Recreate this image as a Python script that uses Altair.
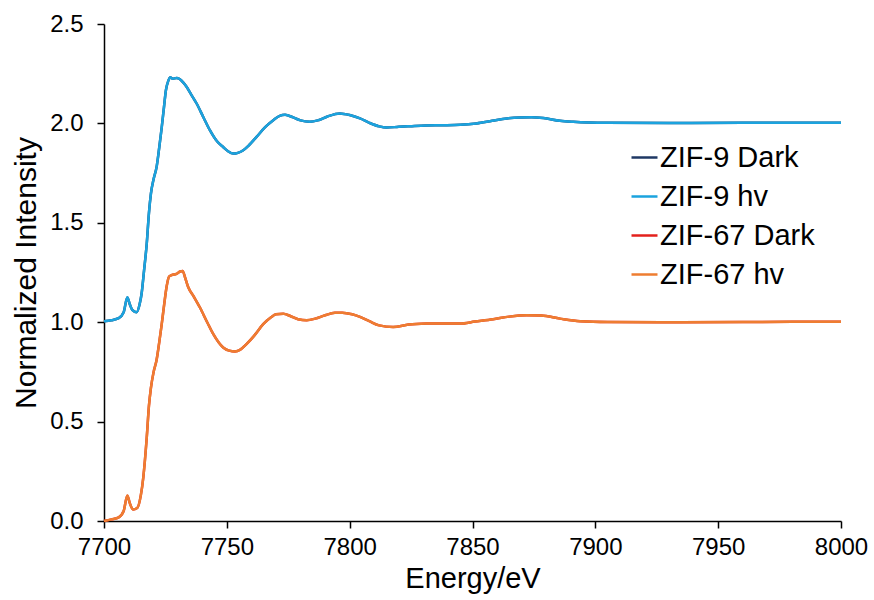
import altair as alt
import pandas as pd

# ---- data ----
zif67_energy = [7700, 7703, 7706, 7708, 7709.5, 7710.5, 7711.8, 7713.5, 7715, 7716, 7717.4, 7718.3,
                7719.1, 7720.2, 7721.4, 7722.5, 7723.5, 7724.5, 7725.5, 7726.5, 7727.5, 7729.5, 7731,
                7732, 7733, 7734.3, 7736.5, 7739, 7742, 7744.5, 7748.5, 7751, 7753.3, 7755.5, 7758,
                7761, 7764.8, 7768, 7770, 7773, 7776, 7779, 7782.5, 7786, 7790, 7794, 7797, 7801,
                7804.2, 7808, 7812, 7817.7, 7824, 7831.3, 7838, 7844.9, 7851, 7858.4, 7865, 7872,
                7878, 7885.6, 7893.8, 7905, 7930, 7960, 7980, 8000]
zif67_hv = [0.000, 0.008, 0.018, 0.05, 0.128, 0.09, 0.058, 0.065, 0.13, 0.22, 0.42, 0.58,
            0.67, 0.75, 0.81, 0.90, 0.99, 1.09, 1.18, 1.23, 1.237, 1.243, 1.255,
            1.258, 1.225, 1.176, 1.13, 1.075, 1.0, 0.94, 0.873, 0.857, 0.853, 0.862, 0.89,
            0.93, 0.99, 1.025, 1.04, 1.043, 1.03, 1.015, 1.01, 1.018, 1.035, 1.047, 1.048, 1.04,
            1.027, 1.005, 0.984, 0.976, 0.988, 0.993, 0.994, 0.993, 1.003, 1.015, 1.028, 1.035,
            1.034, 1.018, 1.005, 1.001, 1.0, 1.001, 1.002, 1.002]
zif67_dark = [0.000, 0.008, 0.018, 0.05, 0.127, 0.09, 0.058, 0.065, 0.13, 0.22, 0.42, 0.58,
              0.67, 0.75, 0.81, 0.90, 0.99, 1.09, 1.18, 1.23, 1.237, 1.243, 1.255,
              1.258, 1.225, 1.176, 1.13, 1.075, 1.0, 0.94, 0.873, 0.857, 0.853, 0.862, 0.89,
              0.93, 0.99, 1.025, 1.04, 1.043, 1.03, 1.015, 1.01, 1.018, 1.035, 1.047, 1.048, 1.04,
              1.027, 1.005, 0.984, 0.976, 0.988, 0.993, 0.994, 0.993, 1.003, 1.015, 1.028, 1.035,
              1.034, 1.018, 1.005, 1.001, 1.0, 1.001, 1.002, 1.002]

zif9_energy = [7700, 7703, 7706, 7708, 7709.5, 7710.5, 7711.5, 7713.3, 7714.5, 7715.3, 7716.3, 7717.4,
               7718.3, 7719.1, 7720.2, 7721.4, 7722.5, 7723.5, 7724.4, 7725.2, 7726.2, 7726.9, 7728,
               7729.5, 7730.9, 7732.3, 7733.6, 7735.5, 7737.7, 7740.5, 7743.1, 7746, 7748.6, 7750.5,
               7752.6, 7754.5, 7756.7, 7759, 7762.1, 7765.5, 7768.9, 7771.5, 7773.7, 7777, 7780,
               7783.8, 7787, 7791, 7796, 7800, 7804.2, 7808, 7812, 7815, 7820, 7824.5, 7831, 7838,
               7845, 7851.6, 7858, 7864, 7869.3, 7874, 7878.8, 7885.6, 7891, 7904.6, 7930, 7960,
               7980, 8000]
zif9_hv = [1.005, 1.01, 1.02, 1.05, 1.125, 1.09, 1.062, 1.05, 1.09, 1.143, 1.26, 1.395,
           1.55, 1.647, 1.72, 1.78, 1.88, 1.98, 2.08, 2.167, 2.215, 2.232, 2.225,
           2.228, 2.222, 2.205, 2.184, 2.145, 2.1, 2.03, 1.966, 1.91, 1.88, 1.86,
           1.848, 1.852, 1.865, 1.89, 1.932, 1.98, 2.016, 2.038, 2.043, 2.03, 2.015,
           2.008, 2.015, 2.035, 2.05, 2.042, 2.025, 2.003, 1.985, 1.979, 1.983, 1.986, 1.99, 1.991,
           1.993, 2.0, 2.013, 2.025, 2.03, 2.031, 2.027, 2.013, 2.008, 2.003, 2.002, 2.003,
           2.003, 2.003]
zif9_dark = [1.005, 1.01, 1.02, 1.05, 1.124, 1.09, 1.062, 1.05, 1.09, 1.143, 1.26, 1.395,
             1.55, 1.647, 1.72, 1.78, 1.88, 1.98, 2.08, 2.167, 2.215, 2.232, 2.225,
             2.228, 2.222, 2.205, 2.184, 2.145, 2.1, 2.03, 1.966, 1.91, 1.88, 1.86,
             1.848, 1.852, 1.865, 1.89, 1.932, 1.98, 2.016, 2.038, 2.043, 2.03, 2.015,
             2.008, 2.015, 2.035, 2.05, 2.042, 2.025, 2.003, 1.985, 1.979, 1.983, 1.986, 1.99, 1.991,
             1.993, 2.0, 2.013, 2.025, 2.03, 2.031, 2.027, 2.013, 2.008, 2.003, 2.002, 2.003,
             2.003, 2.003]

series_names = ["ZIF-9 Dark", "ZIF-9 hv", "ZIF-67 Dark", "ZIF-67 hv"]
series_colors = ["#1f3864", "#1ba3de", "#e3211c", "#ee7d31"]
x_ticks = [7700, 7750, 7800, 7850, 7900, 7950, 8000]
y_ticks = [0.0, 0.5, 1.0, 1.5, 2.0, 2.5]

frames = []
for name, xs, ys in [("ZIF-9 Dark", zif9_energy, zif9_dark),
                     ("ZIF-9 hv", zif9_energy, zif9_hv),
                     ("ZIF-67 Dark", zif67_energy, zif67_dark),
                     ("ZIF-67 hv", zif67_energy, zif67_hv)]:
    frames.append(pd.DataFrame({"energy": xs, "intensity": ys, "series": name}))
df = pd.concat(frames, ignore_index=True)

FONT = "Liberation Sans"

x_enc = alt.X("energy:Q",
              scale=alt.Scale(domain=[7700, 8000], nice=False, zero=False),
              axis=alt.Axis(values=x_ticks, format="d", title="Energy/eV", grid=False,
                            ticks=True, tickSize=7, labelPadding=7, titlePadding=5,
                            labelFlush=False, labelOverlap=False,
                            labelFontSize=24, titleFontSize=29, titleFontWeight="normal",
                            labelColor="#000000", titleColor="#000000",
                            domainColor="#000000", tickColor="#000000",
                            domainWidth=1.5, tickWidth=1.5, labelFont=FONT, titleFont=FONT))
y_enc = alt.Y("intensity:Q",
              scale=alt.Scale(domain=[0, 2.5], nice=False, zero=False),
              axis=alt.Axis(values=y_ticks, format=".1f", title="Normalized Intensity", grid=False,
                            ticks=True, tickSize=7, labelPadding=14, titlePadding=8,
                            labelFlush=False, labelOverlap=False,
                            labelFontSize=24, titleFontSize=30, titleFontWeight="normal",
                            labelColor="#000000", titleColor="#000000",
                            domainColor="#000000", tickColor="#000000",
                            domainWidth=1.5, tickWidth=1.5, labelFont=FONT, titleFont=FONT))
color_enc = alt.Color("series:N",
                      scale=alt.Scale(domain=series_names, range=series_colors),
                      sort=series_names,
                      legend=alt.Legend(title=None, orient="none", legendX=526, legendY=119,
                                        symbolType="stroke", symbolSize=676, symbolStrokeWidth=2.5,
                                        labelFontSize=29, labelFont=FONT, labelColor="#000000",
                                        labelOffset=1, rowPadding=9, padding=0))

layers = []
for name in series_names:
    layers.append(
        alt.Chart(df).transform_filter(alt.datum.series == name)
        .mark_line(strokeWidth=2.5, interpolate="monotone")
        .encode(x=x_enc, y=y_enc, color=color_enc)
    )

chart = alt.layer(*layers).properties(
    width=737, height=497,
    background="#ffffff",
    autosize=alt.AutoSizeParams(type="none"),
    padding={"left": 104, "top": 24, "right": 33, "bottom": 79},
).configure_view(stroke=None)

chart.save("out.html", embed_options={"renderer": "svg", "actions": False})
